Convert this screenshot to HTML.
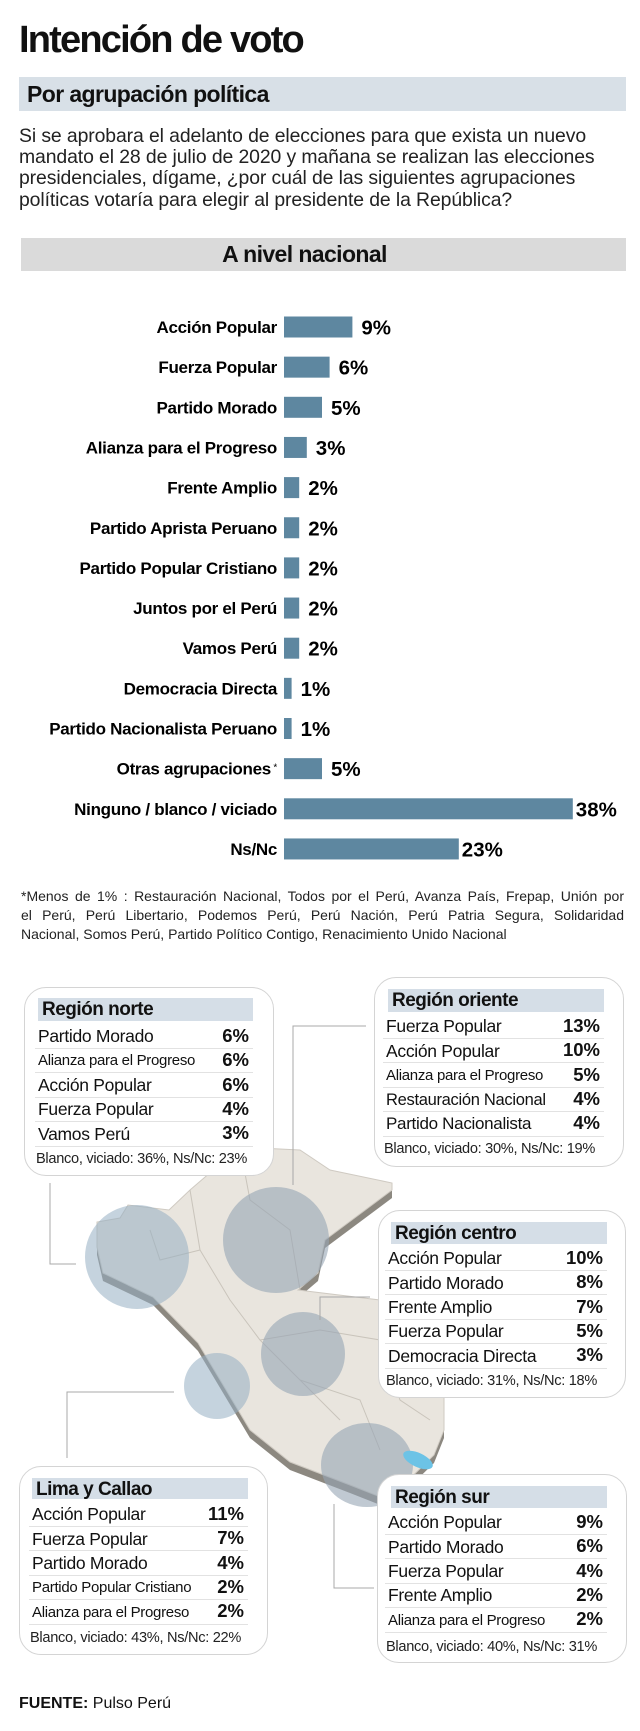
<!DOCTYPE html>
<html><head><meta charset="utf-8">
<style>
*{margin:0;padding:0;box-sizing:border-box}
body{width:640px;height:1731px;background:#fff;position:relative;overflow:hidden;font-family:"Liberation Sans",sans-serif;color:#111}
.abs{position:absolute}
#title{left:19px;top:19px;font-size:38px;font-weight:bold;letter-spacing:-1.8px;line-height:42px}
#sub-bar{left:19px;top:77px;width:607px;height:34px;background:#d8e0e7}
#sub-bar span{position:absolute;left:8px;top:4px;font-size:23px;font-weight:bold;letter-spacing:-0.6px}
#question{left:19px;top:126px;width:620px;font-size:19.4px;line-height:21.2px;color:#222;white-space:nowrap;letter-spacing:-0.1px}
#nat-bar{left:21px;top:238px;width:605px;height:33px;background:#dadada;text-align:center}
#nat-bar span{font-size:23px;font-weight:bold;line-height:33px;letter-spacing:-0.6px;position:relative;left:-19px}
#footnote{left:21px;top:887px;width:603px;font-size:14px;line-height:19px;color:#222}
#footnote div{text-align:justify;text-align-last:justify;white-space:nowrap}
#footnote div.last{text-align-last:left}
.box{position:absolute;background:#fff;border:1.5px solid #d4d4d4;border-radius:22px}
.hdr{position:absolute;background:#d5dee7;font-weight:bold;font-size:19px;letter-spacing:-0.5px;padding-left:4px;line-height:23px}
.row{position:absolute;line-height:20px;white-space:nowrap}
.val{position:absolute;font-weight:bold;font-size:18.5px;line-height:20px;text-align:right}
.sep{position:absolute;height:1px;background:#e2e2e2}
.foot{position:absolute;font-size:14.6px;line-height:20px;white-space:nowrap;color:#222}
#fuente{left:19px;top:1694px;font-size:16px;line-height:20px}
</style></head>
<body>
<div id="title" class="abs">Intención de voto</div>
<div id="sub-bar" class="abs"><span>Por agrupación política</span></div>
<div id="question" class="abs">Si se aprobara el adelanto de elecciones para que exista un nuevo<br>mandato el 28 de julio de 2020 y mañana se realizan las elecciones<br>presidenciales, dígame, ¿por cuál de las siguientes agrupaciones<br>políticas votaría para elegir al presidente de la República?</div>
<div id="nat-bar" class="abs"><span>A nivel nacional</span></div>

<svg id="chart" class="abs" style="left:0;top:0" width="640" height="880"></svg>

<div id="footnote" class="abs"><div>*Menos de 1% : Restauración Nacional, Todos por el Perú, Avanza País, Frepap, Unión por</div><div>el Perú, Perú Libertario, Podemos Perú, Perú Nación, Perú Patria Segura, Solidaridad</div><div class="last">Nacional, Somos Perú, Partido Político Contigo, Renacimiento Unido Nacional</div></div>

<svg id="map" class="abs" style="left:0;top:0" width="640" height="1731">
  <polygon fill="#8c8880" transform="translate(0,8)" points="97,1247 103,1273 153,1297 198,1343 250,1430 290,1462 350,1485 388,1500 434,1455 438,1445 444,1430 444,1380 430,1320 380,1300 298,1290 318,1273 325,1240 392,1190 392,1183 330,1170 300,1150 240,1147 190,1190 169,1210 128,1205 120,1218 97,1222"/>
  <polygon fill="#e9e5de" stroke="#cfcac2" stroke-width="1" points="97,1247 103,1273 153,1297 198,1343 250,1430 290,1462 350,1485 388,1500 434,1455 438,1445 444,1430 444,1380 430,1320 380,1300 298,1290 318,1273 325,1240 392,1190 392,1183 330,1170 300,1150 240,1147 190,1190 169,1210 128,1205 120,1218 97,1222"/>
  <g fill="none" stroke="#c9c4bb" stroke-width="1">
    <path d="M190,1190 L200,1250 L230,1300 L260,1340 L300,1380 L340,1420"/>
    <path d="M240,1147 L250,1200 L290,1230 L300,1290"/>
    <path d="M200,1250 L160,1260 L150,1230"/>
    <path d="M260,1340 L320,1330 L380,1340 L400,1400 L430,1420"/>
    <path d="M300,1380 L360,1400 L380,1450"/>
  </g>
  <ellipse cx="137" cy="1257" rx="52" ry="52" fill="rgba(150,175,195,0.55)"/>
  <ellipse cx="276" cy="1240" rx="53" ry="53" fill="rgba(150,165,180,0.6)"/>
  <ellipse cx="303" cy="1354" rx="42" ry="42" fill="rgba(150,165,180,0.6)"/>
  <ellipse cx="217" cy="1386" rx="33" ry="33" fill="rgba(150,175,195,0.55)"/>
  <ellipse cx="367" cy="1465" rx="46" ry="42" fill="rgba(150,165,180,0.6)"/>
  <ellipse cx="418" cy="1460" rx="16" ry="7" fill="#6cc3e6" transform="rotate(25 418 1460)"/>
  <g stroke="#a8a8a8" stroke-width="1" fill="none">
    <polyline points="50,1183 50,1264 76,1264"/>
    <polyline points="366,1026 293,1026 293,1185"/>
    <polyline points="370,1297 320,1297 320,1320"/>
    <polyline points="174,1392 67,1392 67,1458"/>
    <polyline points="334,1504 334,1588 374,1588"/>
  </g>
</svg>

<div id="boxes"></div>
<div id="fuente" class="abs"><b>FUENTE:</b> Pulso Perú</div>

<script>
const categories = ["Acción Popular","Fuerza Popular","Partido Morado","Alianza para el Progreso","Frente Amplio","Partido Aprista Peruano","Partido Popular Cristiano","Juntos por el Perú","Vamos Perú","Democracia Directa","Partido Nacionalista Peruano","Otras agrupaciones","Ninguno / blanco / viciado","Ns/Nc"];
const values = [9,6,5,3,2,2,2,2,2,1,1,5,38,23];
const valueLabels = ["9%","6%","5%","3%","2%","2%","2%","2%","2%","1%","1%","5%","38%","23%"];

const NS = "http://www.w3.org/2000/svg";
const svg = document.getElementById('chart');
const x0 = 284, pxPer = 7.6;
function xScale(v){ return x0 + v*pxPer; }
function yScale(i){ return 327 + i*40.15; }
categories.forEach((c,i)=>{
  const cy = yScale(i);
  const r = document.createElementNS(NS,'rect');
  
  
  r.setAttribute('x',x0); r.setAttribute('y',cy-10.5);
  r.setAttribute('width',xScale(values[i])-x0); r.setAttribute('height',21);
  r.setAttribute('fill','#5e87a0');
  svg.appendChild(r);
  const t = document.createElementNS(NS,'text');
  
  
  t.setAttribute('x',277); t.setAttribute('y',cy+6);
  t.setAttribute('text-anchor','end');
  t.setAttribute('font-family','Liberation Sans, sans-serif');
  t.setAttribute('font-weight','bold'); t.setAttribute('font-size','17');
  t.setAttribute('letter-spacing','-0.3');
  t.textContent = c;
  if(c==="Otras agrupaciones"){
    const s=document.createElementNS(NS,'tspan');
    s.setAttribute('font-size','10'); s.setAttribute('font-weight','normal'); s.setAttribute('dy','-4');
    s.textContent=' *'; t.appendChild(s);
  }
  svg.appendChild(t);
  const v = document.createElementNS(NS,'text');
  
  
  v.setAttribute('x',xScale(values[i])+ (values[i]>=20?3:9)); v.setAttribute('y',cy+7.5);
  v.setAttribute('font-family','Liberation Sans, sans-serif');
  v.setAttribute('font-weight','bold'); v.setAttribute('font-size','20.5');
  v.textContent = valueLabels[i];
  svg.appendChild(v);
});

const regionNames = ["Región norte","Región oriente","Región centro","Lima y Callao","Región sur"];
const regionRows = [
 [["Partido Morado","6%",17.5],["Alianza para el Progreso","6%",15],["Acción Popular","6%",17.5],["Fuerza Popular","4%",17.5],["Vamos Perú","3%",17.5]],
 [["Fuerza Popular","13%",17.5],["Acción Popular","10%",17.5],["Alianza para el Progreso","5%",15],["Restauración Nacional","4%",16.5],["Partido Nacionalista","4%",17]],
 [["Acción Popular","10%",17.5],["Partido Morado","8%",17.5],["Frente Amplio","7%",17.5],["Fuerza Popular","5%",17.5],["Democracia Directa","3%",17.5]],
 [["Acción Popular","11%",17.5],["Fuerza Popular","7%",17.5],["Partido Morado","4%",17.5],["Partido Popular Cristiano","2%",15],["Alianza para el Progreso","2%",15]],
 [["Acción Popular","9%",17.5],["Partido Morado","6%",17.5],["Fuerza Popular","4%",17.5],["Frente Amplio","2%",17.5],["Alianza para el Progreso","2%",15]]
];
const regionFoot = ["Blanco, viciado: 36%, Ns/Nc: 23%","Blanco, viciado: 30%, Ns/Nc: 19%","Blanco, viciado: 31%, Ns/Nc: 18%","Blanco, viciado: 43%, Ns/Nc: 22%","Blanco, viciado: 40%, Ns/Nc: 31%"];
const layout = [
 [24,987,274,1176, 38,998,253,1021, 1042,1164, 37],
 [374,977,624,1167, 388,989,604,1012, 1032,1154, 385],
 [378,1210,626,1398, 391,1222,607,1244, 1264,1386, 387],
 [19,1466,268,1655, 32,1478,248,1499, 1520,1643, 31],
 [377,1474,627,1663, 391,1486,607,1508, 1528,1652, 387]
];
const wrap = document.getElementById('boxes');
regionNames.forEach((n,k)=>{
  const L = layout[k];
  const b = document.createElement('div');
  b.className='box';
  
  
  b.style.left=L[0]+'px'; b.style.top=L[1]+'px'; b.style.width=(L[2]-L[0])+'px'; b.style.height=(L[3]-L[1])+'px';
  wrap.appendChild(b);
  const h = document.createElement('div');
  h.className='hdr';
  
  
  h.style.left=L[4]+'px'; h.style.top=L[5]+'px'; h.style.width=(L[6]-L[4])+'px'; h.style.height=(L[7]-L[5])+'px';
  h.textContent=n;
  wrap.appendChild(h);
  const step = 24.4;
  regionRows[k].forEach((r,i)=>{
    const base = L[8]+i*step;
    const fs = r[2];
    const d = document.createElement('div');
    d.className='row';
    
    
    d.style.left=(L[10]+1)+'px'; d.style.fontSize=fs+'px';
    d.style.top=(base-(10+0.33*fs))+'px';
    d.style.letterSpacing='-0.3px';
    d.textContent=r[0];
    wrap.appendChild(d);
    const v = document.createElement('div');
    v.className='val';
    
    
    v.style.left=(L[6]-62)+'px'; v.style.width='58px';
    v.style.top=(base-16.2)+'px';
    v.textContent=r[1];
    wrap.appendChild(v);
    const s = document.createElement('div');
    s.className='sep';
    
    
    s.style.left=(L[10]-2)+'px'; s.style.width=(L[6]-L[10]+2)+'px';
    s.style.top=(base+6)+'px';
    wrap.appendChild(s);
  });
  const f = document.createElement('div');
  f.className='foot';
  
  
  f.style.left=(L[10]-1)+'px'; f.style.top=(L[9]-15)+'px';
  f.style.letterSpacing='-0.3px';
  f.textContent=regionFoot[k];
  wrap.appendChild(f);
});
</script>
</body></html>
